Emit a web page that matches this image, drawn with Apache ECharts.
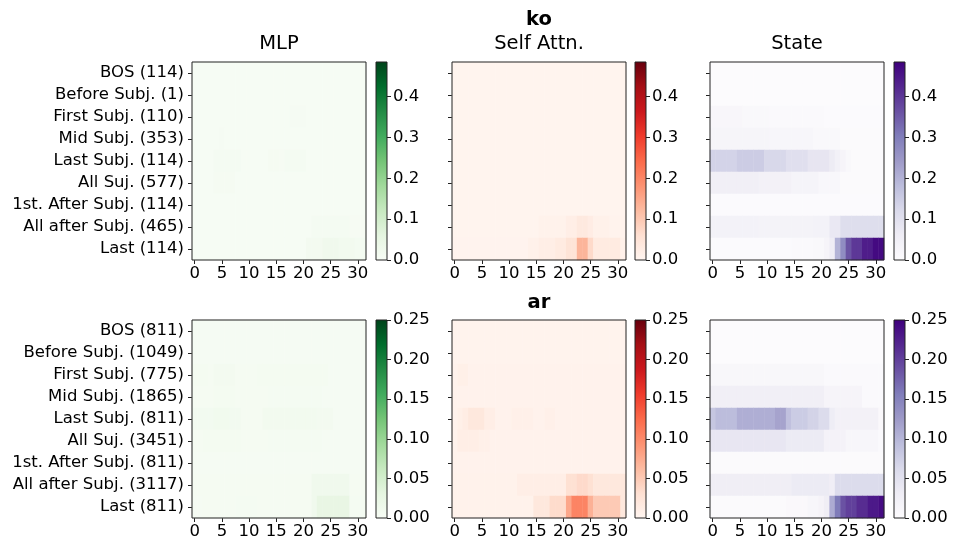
<!DOCTYPE html>
<html><head><meta charset="utf-8">
<script src="https://cdn.jsdelivr.net/npm/echarts@6/dist/echarts.min.js"></script>
<style>html,body{margin:0;padding:0;background:#fff}#c{width:957px;height:546px}</style>
</head><body><div id="c"></div>
<script>
// ---------- categories / tick labels ----------
const layers = ['0','1','2','3','4','5','6','7','8','9','10','11','12','13','14','15','16','17','18','19','20','21','22','23','24','25','26','27','28','29','30','31'];
const rowsKo = ['BOS (114)','Before Subj. (1)','First Subj. (110)','Mid Subj. (353)','Last Subj. (114)','All Suj. (577)','1st. After Subj. (114)','All after Subj. (465)','Last (114)'];
const rowsAr = ['BOS (811)','Before Subj. (1049)','First Subj. (775)','Mid Subj. (1865)','Last Subj. (811)','All Suj. (3451)','1st. After Subj. (811)','All after Subj. (3117)','Last (811)'];
const koMax = 0.485;
const arMax = 0.25;
const koBarTicks = [0, 0.1, 0.2, 0.3, 0.4];
const arBarTicks = [0, 0.05, 0.10, 0.15, 0.20, 0.25];

// ---------- values (rows top->bottom, layers 0..31) ----------
const koMLP = [
 [.003,.003,.003,.003,.003,.003,.003,.003, .003,.003,.003,.003,.003,.003,.003,.003, .003,.003,.003,.003,.003,.003,.003,.003, .003,.003,.003,.003,.003,.003,.003,.003],
 [.003,.003,.003,.003,.003,.003,.003,.003, .003,.003,.003,.003,.003,.003,.003,.003, .003,.003,.003,.003,.003,.003,.003,.003, .003,.003,.003,.003,.003,.003,.003,.003],
 [.003,.003,.003,.003,.003,.003,.003,.003, .003,.003,.003,.003,.003,.003,.003,.003, .003,.003,.006,.006,.006,.003,.003,.003, .003,.003,.003,.003,.003,.003,.003,.003],
 [.004,.004,.004,.004,.004,.006,.004,.004, .004,.004,.004,.004,.004,.004,.004,.004, .004,.004,.004,.004,.004,.004,.004,.004, .004,.004,.004,.004,.004,.004,.004,.004],
 [.004,.004,.004,.004,.010,.010,.010,.010, .010,.004,.004,.004,.004,.004,.008,.008, .005,.009,.009,.009,.009,.004,.004,.004, .004,.004,.004,.004,.004,.004,.004,.004],
 [.004,.004,.004,.004,.008,.008,.008,.008, .004,.004,.004,.004,.004,.004,.004,.004, .004,.004,.004,.004,.004,.004,.004,.004, .004,.004,.004,.004,.004,.004,.004,.004],
 [.003,.003,.003,.003,.003,.003,.003,.003, .003,.003,.003,.003,.003,.003,.003,.003, .003,.003,.003,.003,.003,.003,.003,.003, .003,.003,.003,.003,.003,.003,.003,.003],
 [.004,.004,.004,.004,.004,.004,.004,.004, .004,.004,.004,.004,.004,.004,.004,.004, .004,.004,.004,.004,.004,.004,.010,.010, .010,.010,.010,.010,.010,.005,.005,.005],
 [.004,.004,.004,.004,.004,.004,.004,.004, .004,.004,.004,.004,.004,.004,.004,.004, .004,.004,.004,.004,.004,.014,.014,.014, .022,.022,.022,.018,.018,.018,.012,.012]
];
const koAttn = [
 [.004,.004,.004,.004,.004,.004,.004,.004, .004,.004,.004,.004,.004,.004,.004,.004, .004,.004,.004,.004,.004,.004,.004,.004, .004,.004,.004,.004,.004,.004,.004,.004],
 [.004,.004,.004,.004,.004,.004,.004,.004, .004,.004,.004,.004,.004,.004,.004,.004, .004,.004,.004,.004,.004,.004,.004,.004, .004,.004,.004,.004,.004,.004,.004,.004],
 [.004,.004,.004,.004,.004,.004,.004,.004, .004,.004,.004,.004,.004,.004,.004,.004, .004,.004,.004,.004,.004,.004,.004,.004, .004,.004,.004,.004,.004,.004,.004,.004],
 [.004,.004,.004,.004,.004,.004,.004,.004, .004,.004,.004,.004,.004,.004,.004,.004, .004,.004,.004,.004,.004,.004,.004,.004, .004,.004,.004,.004,.004,.004,.004,.004],
 [.004,.004,.004,.004,.004,.004,.004,.004, .004,.004,.004,.004,.004,.004,.004,.004, .004,.004,.004,.004,.004,.004,.004,.004, .004,.004,.004,.004,.004,.004,.004,.004],
 [.004,.004,.004,.004,.004,.004,.004,.004, .004,.004,.004,.004,.004,.004,.004,.004, .004,.004,.004,.004,.004,.004,.004,.004, .004,.004,.004,.004,.004,.004,.004,.004],
 [.004,.004,.004,.004,.004,.004,.004,.004, .004,.004,.004,.004,.004,.004,.004,.004, .004,.004,.004,.004,.004,.004,.004,.004, .004,.004,.004,.004,.004,.004,.004,.004],
 [.004,.004,.004,.004,.004,.004,.004,.004, .004,.004,.004,.004,.004,.004,.004,.004, .010,.010,.010,.010,.010,.020,.020,.035, .035,.025,.012,.012,.012,.006,.006,.006],
 [.005,.005,.005,.005,.005,.005,.005,.005, .005,.005,.005,.005,.005,.005,.012,.012, .020,.020,.020,.030,.030,.050,.050,.130, .130,.070,.030,.030,.030,.030,.030,.012]
];
const koState = [
 [.002,.002,.002,.002,.002,.002,.002,.002, .002,.002,.002,.002,.002,.002,.002,.002, .002,.002,.002,.002,.002,.002,.002,.002, .002,.002,.002,.002,.002,.002,.002,.002],
 [.002,.002,.002,.002,.002,.002,.002,.002, .002,.002,.002,.002,.002,.002,.002,.002, .002,.002,.002,.002,.002,.002,.002,.002, .002,.002,.002,.002,.002,.002,.002,.002],
 [.020,.020,.020,.020,.020,.020,.014,.014, .014,.014,.014,.010,.010,.010,.010,.010, .010,.010,.010,.010,.010,.003,.003,.003, .003,.003,.003,.003,.003,.003,.003,.003],
 [.028,.028,.028,.028,.028,.028,.028,.028, .028,.028,.028,.022,.022,.022,.022,.022, .022,.022,.022,.012,.012,.012,.012,.012, .004,.004,.004,.004,.004,.004,.004,.004],
 [.135,.135,.135,.135,.135,.150,.150,.150, .150,.150,.125,.125,.125,.125,.105,.105, .105,.105,.085,.085,.085,.085,.065,.045, .030,.015,.006,.006,.006,.006,.006,.006],
 [.050,.050,.050,.050,.050,.050,.050,.050, .050,.042,.042,.042,.042,.042,.042,.032, .032,.032,.032,.032,.018,.018,.018,.018, .005,.005,.005,.005,.005,.005,.005,.005],
 [.003,.003,.003,.003,.003,.003,.003,.003, .003,.003,.003,.003,.003,.003,.003,.003, .003,.003,.003,.003,.003,.003,.003,.003, .003,.003,.003,.003,.003,.003,.003,.003],
 [.040,.040,.040,.040,.040,.040,.040,.040, .040,.035,.035,.035,.035,.035,.035,.035, .035,.035,.035,.040,.040,.040,.075,.075, .110,.110,.110,.110,.110,.110,.110,.110],
 [.003,.003,.003,.003,.003,.003,.003,.003, .003,.003,.003,.003,.003,.003,.003,.008, .008,.008,.008,.015,.015,.030,.060,.200, .270,.360,.400,.400,.440,.440,.470,.470]
];
const arMLP = [
 [.003,.003,.003,.003,.003,.003,.003,.003, .003,.003,.003,.003,.003,.003,.003,.003, .003,.003,.003,.003,.003,.003,.003,.003, .003,.003,.003,.003,.003,.003,.003,.003],
 [.003,.003,.003,.003,.003,.003,.003,.003, .003,.003,.003,.003,.003,.003,.003,.003, .003,.003,.003,.003,.003,.003,.003,.003, .003,.003,.003,.003,.003,.003,.003,.003],
 [.006,.006,.006,.004,.007,.007,.007,.007, .004,.004,.004,.004,.006,.006,.006,.006, .006,.006,.006,.006,.006,.006,.006,.006, .006,.003,.003,.003,.003,.003,.003,.003],
 [.004,.004,.004,.004,.006,.006,.006,.006, .004,.004,.004,.004,.004,.004,.005,.005, .005,.005,.005,.005,.005,.005,.005,.005, .003,.003,.003,.003,.003,.003,.003,.003],
 [.008,.008,.008,.008,.010,.010,.010,.008, .008,.004,.004,.004,.004,.009,.009,.009, .009,.009,.009,.009,.009,.009,.009,.007, .007,.007,.003,.003,.003,.003,.003,.003],
 [.004,.004,.006,.006,.006,.006,.006,.006, .006,.004,.004,.004,.004,.004,.005,.005, .005,.005,.005,.005,.005,.005,.005,.005, .003,.003,.003,.003,.003,.003,.003,.003],
 [.003,.003,.003,.003,.003,.003,.003,.003, .003,.003,.003,.003,.003,.003,.003,.003, .003,.003,.003,.003,.003,.003,.003,.003, .003,.003,.003,.003,.003,.003,.003,.003],
 [.004,.004,.004,.004,.004,.004,.004,.004, .004,.004,.004,.004,.004,.004,.004,.004, .004,.004,.004,.004,.004,.004,.012,.012, .012,.012,.012,.012,.012,.004,.004,.004],
 [.003,.003,.004,.004,.004,.004,.004,.004, .005,.005,.005,.005,.004,.004,.004,.004, .004,.004,.004,.004,.004,.004,.012,.025, .025,.025,.025,.025,.025,.005,.005,.005]
];
const arAttn = [
 [.003,.003,.003,.003,.003,.003,.003,.003, .003,.003,.003,.003,.003,.003,.003,.003, .003,.003,.003,.003,.003,.003,.003,.003, .003,.003,.003,.003,.003,.003,.003,.003],
 [.003,.003,.003,.003,.003,.003,.003,.003, .003,.003,.003,.003,.003,.003,.003,.003, .003,.003,.003,.003,.003,.003,.003,.003, .003,.003,.003,.003,.003,.003,.003,.003],
 [.004,.008,.008,.004,.004,.004,.004,.004, .004,.004,.004,.004,.004,.004,.004,.004, .004,.004,.004,.004,.004,.004,.004,.004, .004,.004,.004,.004,.004,.004,.004,.004],
 [.004,.004,.004,.004,.004,.004,.004,.004, .004,.004,.004,.004,.004,.004,.004,.004, .004,.004,.004,.004,.004,.004,.004,.004, .004,.004,.004,.004,.004,.004,.004,.004],
 [.004,.008,.012,.020,.020,.020,.010,.010, .004,.004,.004,.007,.007,.007,.007,.004, .004,.007,.007,.004,.004,.004,.004,.004, .004,.004,.004,.004,.004,.004,.004,.004],
 [.004,.010,.010,.010,.010,.007,.007,.004, .004,.004,.004,.004,.004,.004,.004,.004, .004,.004,.004,.004,.004,.004,.004,.004, .004,.004,.004,.004,.004,.004,.004,.004],
 [.004,.004,.004,.004,.004,.004,.004,.004, .004,.004,.004,.004,.004,.004,.004,.004, .004,.004,.004,.004,.004,.004,.004,.004, .004,.004,.004,.004,.004,.004,.004,.004],
 [.005,.005,.005,.005,.005,.005,.005,.005, .005,.005,.005,.005,.010,.010,.010,.010, .010,.010,.010,.010,.010,.030,.030,.036, .036,.030,.020,.020,.020,.020,.020,.020],
 [.005,.005,.005,.005,.005,.005,.005,.005, .005,.005,.005,.005,.005,.005,.005,.020, .020,.020,.035,.035,.035,.078,.105,.105, .105,.070,.050,.050,.050,.050,.050,.020]
];
const arState = [
 [.001,.001,.001,.001,.001,.001,.001,.001, .001,.001,.001,.001,.001,.001,.001,.001, .001,.001,.001,.001,.001,.001,.001,.001, .001,.001,.001,.001,.001,.001,.001,.001],
 [.001,.001,.001,.001,.001,.001,.001,.001, .001,.001,.001,.001,.001,.001,.001,.001, .001,.001,.001,.001,.001,.001,.001,.001, .001,.001,.001,.001,.001,.001,.001,.001],
 [.010,.010,.010,.010,.010,.010,.010,.010, .010,.010,.010,.010,.010,.010,.010,.010, .010,.010,.010,.010,.010,.004,.004,.004, .004,.004,.004,.004,.004,.004,.004,.004],
 [.027,.027,.027,.027,.027,.027,.027,.027, .027,.027,.027,.027,.027,.027,.027,.027, .027,.027,.027,.027,.027,.015,.015,.015, .015,.015,.015,.015,.005,.005,.005,.005],
 [.083,.094,.094,.094,.094,.107,.107,.107, .107,.107,.107,.107,.117,.117,.090,.078, .078,.078,.070,.070,.060,.060,.032,.022, .022,.022,.022,.022,.022,.022,.022,.006],
 [.042,.042,.042,.042,.042,.042,.042,.042, .042,.042,.042,.042,.042,.042,.035,.035, .035,.035,.035,.035,.035,.020,.020,.020, .020,.012,.012,.012,.012,.012,.012,.005],
 [.002,.002,.002,.002,.002,.002,.002,.002, .002,.002,.002,.002,.002,.002,.002,.002, .002,.002,.002,.002,.002,.002,.002,.002, .002,.002,.002,.002,.002,.002,.002,.002],
 [.030,.030,.030,.030,.030,.030,.030,.030, .030,.030,.030,.030,.030,.030,.030,.035, .035,.035,.035,.035,.035,.035,.028,.060, .060,.060,.060,.060,.060,.060,.060,.060],
 [.003,.003,.003,.003,.003,.003,.003,.003, .003,.003,.003,.003,.003,.003,.006,.006, .006,.006,.012,.012,.018,.030,.110,.157, .187,.200,.200,.215,.215,.230,.230,.240]
];

// ---------- colormaps (matplotlib) ----------
const greens  = ['#f7fcf5','#e5f5e0','#c7e9c0','#a1d99b','#74c476','#41ab5d','#238b45','#006d2c','#00441b'];
const reds    = ['#fff5f0','#fee0d2','#fcbba1','#fc9272','#fb6a4a','#ef3b2c','#cb181d','#a50f15','#67000d'];
const purples = ['#fcfbfd','#efedf5','#dadaeb','#bcbddc','#9e9ac8','#807dba','#6a51a3','#54278f','#3f007d'];

const FONT = 'DejaVu Sans';
const FS = 16.5;
const panels = [
  {data: koMLP,   cmap: greens,  max: koMax, ticks: koBarTicks, dec: 1, row: 0, col: 0, labels: rowsKo},
  {data: koAttn,  cmap: reds,    max: koMax, ticks: koBarTicks, dec: 1, row: 0, col: 1, labels: rowsKo},
  {data: koState, cmap: purples, max: koMax, ticks: koBarTicks, dec: 1, row: 0, col: 2, labels: rowsKo},
  {data: arMLP,   cmap: greens,  max: arMax, ticks: arBarTicks, dec: 2, row: 1, col: 0, labels: rowsAr},
  {data: arAttn,  cmap: reds,    max: arMax, ticks: arBarTicks, dec: 2, row: 1, col: 1, labels: rowsAr},
  {data: arState, cmap: purples, max: arMax, ticks: arBarTicks, dec: 2, row: 1, col: 2, labels: rowsAr}
];
const tops = [62, 320], lefts = [192, 452, 710], cbLefts = [376, 635, 894];
const PW = 174, PH = 198, CBW = 11;
const grid = [], xAxis = [], yAxis = [], series = [], visualMap = [];
const lineCol = '#222';
panels.forEach(p => {
  const gi = grid.length;
  grid.push({left: lefts[p.col], top: tops[p.row], width: PW, height: PH, show: true, z: 10,
    borderColor: lineCol, borderWidth: 1, backgroundColor: 'rgba(0,0,0,0)'});
  xAxis.push({type: 'category', gridIndex: gi, data: layers, axisLine: {show: false},
    axisTick: {show: true, alignWithLabel: true, interval: 4, length: 4, lineStyle: {color: lineCol}},
    axisLabel: {interval: 4, fontSize: FS, color: '#000', margin: 5, fontFamily: FONT},
    splitLine: {show: false}});
  yAxis.push({type: 'category', gridIndex: gi, data: p.labels, inverse: true, axisLine: {show: false},
    axisTick: {show: true, alignWithLabel: true, interval: 0, length: 4, lineStyle: {color: lineCol}},
    axisLabel: {show: p.col === 0, interval: 0, fontSize: FS, color: '#000', margin: 8, fontFamily: FONT},
    splitLine: {show: false}});
  const d = [];
  p.data.forEach((row, r) => row.forEach((v, c) => d.push([c, r, v])));
  series.push({type: 'heatmap', xAxisIndex: gi, yAxisIndex: gi, data: d, silent: true,
    itemStyle: {borderWidth: 0}, emphasis: {disabled: true}, progressive: 0});
  visualMap.push({type: 'continuous', show: false, seriesIndex: series.length - 1, dimension: 2,
    min: 0, max: p.max, inRange: {color: p.cmap}});
  // colorbar
  const ci = grid.length;
  grid.push({left: cbLefts[p.col], top: tops[p.row], width: CBW, height: PH, show: true, z: 10,
    borderColor: lineCol, borderWidth: 1, backgroundColor: 'rgba(0,0,0,0)'});
  xAxis.push({type: 'category', gridIndex: ci, data: ['cb'], show: false});
  yAxis.push({type: 'value', gridIndex: ci, min: 0, max: p.max, position: 'right',
    axisLine: {show: false}, splitLine: {show: false},
    axisTick: {show: true, length: 4, customValues: p.ticks, lineStyle: {color: lineCol}},
    axisLabel: {customValues: p.ticks, formatter: v => v.toFixed(p.dec), fontSize: FS, color: '#000', margin: 6, fontFamily: FONT}});
  series.push({type: 'bar', xAxisIndex: ci, yAxisIndex: ci, data: [p.max], barWidth: '100%', silent: true,
    itemStyle: {color: new echarts.graphic.LinearGradient(0, 1, 0, 0,
      p.cmap.map((c, k) => ({offset: k / (p.cmap.length - 1), color: c})))}});
});

const txt = (x, y, s, bold) => ({type: 'text', x: x, y: y, z: 20,
  style: {text: s, font: (bold ? 'bold ' : '') + '19.5px "' + FONT + '"', fill: '#000', align: 'center', verticalAlign: 'middle'}});

const chart = echarts.init(document.getElementById('c'), null, {renderer: 'canvas'});
chart.setOption({
  animation: false,
  backgroundColor: '#fff',
  grid, xAxis, yAxis, series, visualMap,
  graphic: [
    txt(539, 20, 'ko', true),
    txt(279, 44, 'MLP'), txt(539, 44, 'Self Attn.'), txt(797, 44, 'State'),
    txt(539, 303, 'ar', true)
  ]
});
</script></body></html>
